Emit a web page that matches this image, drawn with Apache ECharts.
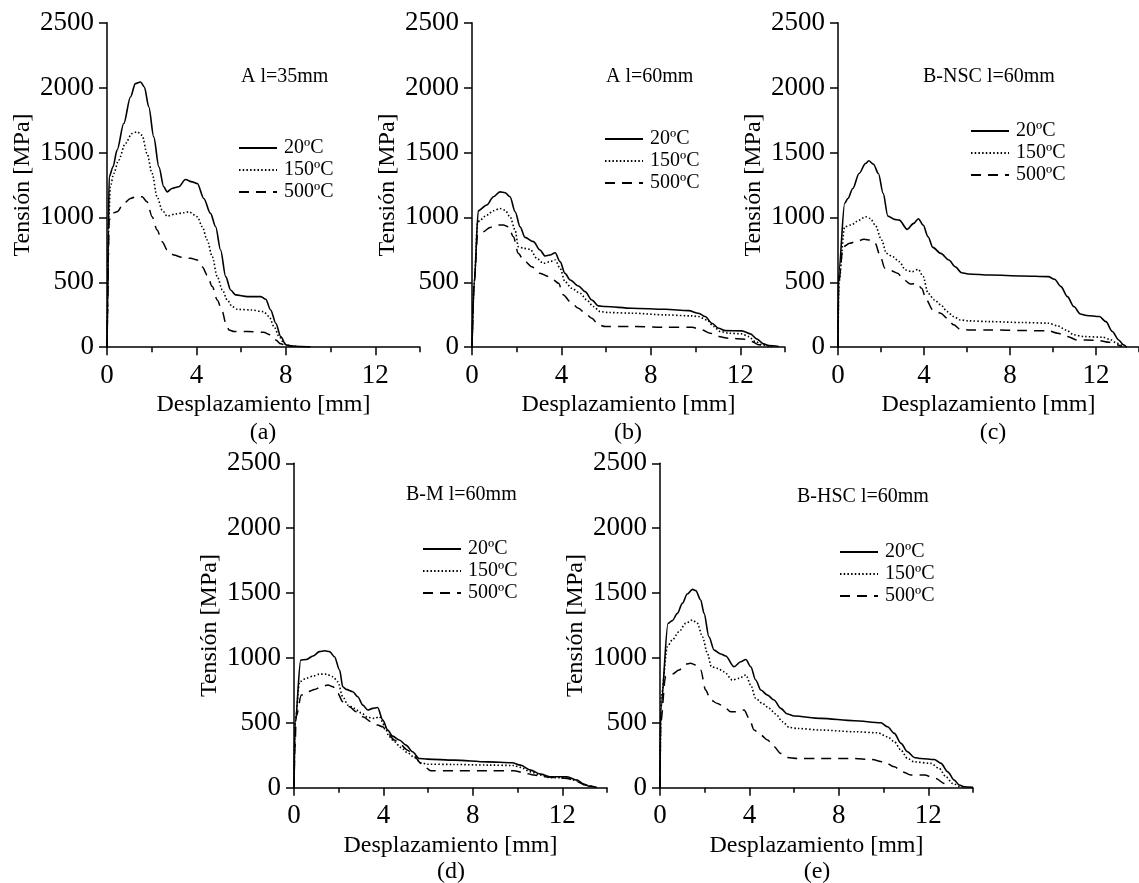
<!DOCTYPE html>
<html><head><meta charset="utf-8">
<script src="https://cdn.jsdelivr.net/npm/echarts@6/dist/echarts.min.js"></script>
<style>html,body{margin:0;padding:0;background:#fff}#c{width:1139px;height:883px}</style>
</head><body><div id="c"></div>
<script>
// ---- data (displacement mm, stress MPa) ----
const seriesNames = ['20ºC', '150ºC', '500ºC'];
const panelTitles = ['A l=35mm', 'A l=60mm', 'B-NSC l=60mm', 'B-M l=60mm', 'B-HSC l=60mm'];
const panelLabels = ['(a)', '(b)', '(c)', '(d)', '(e)'];
const xTickLabels = [0, 4, 8, 12];
const xMinorTicks = [2, 6, 10, 14];
const yTicks = [0, 500, 1000, 1500, 2000, 2500];

const a20 = [[0,0],[0.03,300],[0.06,900],[0.1,1313],[0.27,1390],[0.45,1518],[0.75,1723],[1.05,1928],[1.27,2031],[1.5,2043],[1.67,2005],[1.87,1851],[2.09,1620],[2.32,1390],[2.54,1236],[2.69,1197],[2.91,1223],[3.21,1236],[3.51,1292],[3.81,1274],[4.04,1261],[4.33,1146],[4.63,1031],[4.86,928],[5.08,749],[5.31,544],[5.53,441],[5.75,403],[6.28,390],[6.88,390],[7.1,369],[7.32,287],[7.55,185],[7.77,82],[8.0,18],[8.22,10],[8.67,5],[9.1,3]];
const a150 = [[0,0],[0.04,500],[0.08,1000],[0.15,1236],[0.3,1338],[0.52,1441],[0.82,1569],[1.12,1646],[1.35,1659],[1.57,1633],[1.79,1492],[2.02,1338],[2.24,1159],[2.47,1056],[2.69,1010],[3.06,1026],[3.44,1036],[3.66,1043],[4.04,1005],[4.26,928],[4.48,826],[4.71,697],[4.93,544],[5.16,441],[5.38,364],[5.6,313],[5.83,292],[6.43,287],[7.0,274],[7.25,236],[7.47,159],[7.7,82],[7.92,31],[8.15,10],[8.6,5]];
const a500 = [[0,0],[0.03,300],[0.06,700],[0.1,980],[0.22,1031],[0.45,1043],[0.75,1108],[1.05,1146],[1.35,1164],[1.57,1159],[1.79,1120],[2.02,1005],[2.24,903],[2.47,813],[2.69,749],[2.99,710],[3.36,692],[3.74,685],[4.04,672],[4.26,620],[4.48,556],[4.71,467],[4.93,364],[5.16,274],[5.31,185],[5.46,133],[5.68,121],[6.28,121],[7.0,115],[7.32,95],[7.55,56],[7.77,26],[8.0,10]];

const b20 = [[0,0],[0.1,500],[0.28,1051],[0.66,1095],[0.96,1159],[1.25,1197],[1.48,1190],[1.7,1159],[1.93,1044],[2.15,928],[2.37,846],[2.75,813],[3.04,749],[3.27,703],[3.49,710],[3.72,728],[3.94,659],[4.16,569],[4.39,518],[4.76,472],[5.06,428],[5.36,364],[5.66,318],[5.96,313],[7.15,300],[8.64,292],[9.69,282],[10.13,262],[10.43,236],[10.73,185],[11.03,146],[11.33,128],[12.07,126],[12.45,103],[12.75,62],[13.04,26],[13.27,13],[13.72,5]];
const b150 = [[0,0],[0.1,500],[0.25,959],[0.36,980],[0.66,1018],[0.96,1051],[1.25,1069],[1.48,1056],[1.7,1005],[1.93,903],[2.07,774],[2.3,762],[2.6,754],[2.9,685],[3.19,646],[3.49,659],[3.72,672],[3.94,608],[4.16,505],[4.46,454],[4.84,415],[5.13,364],[5.43,313],[5.73,274],[6.1,267],[7.15,262],[8.64,249],[9.84,241],[10.13,236],[10.51,210],[10.81,159],[11.1,121],[11.48,108],[12.07,103],[12.37,82],[12.67,44],[12.97,18],[13.42,5]];
const b500 = [[0,0],[0.1,500],[0.25,864],[0.51,890],[0.81,923],[1.1,941],[1.4,941],[1.63,928],[1.85,851],[2.07,723],[2.3,672],[2.67,620],[3.04,569],[3.42,544],[3.64,518],[3.87,492],[4.09,403],[4.39,351],[4.76,300],[5.06,262],[5.36,223],[5.66,172],[5.96,159],[7.15,159],[8.64,154],[9.84,154],[10.28,133],[10.66,108],[11.03,82],[11.48,69],[12.22,62],[12.52,44],[12.82,18],[13.27,5]];

const c20 = [[0,0],[0.03,570],[0.31,1108],[0.46,1146],[0.69,1223],[0.98,1338],[1.28,1415],[1.43,1436],[1.65,1410],[1.88,1338],[2.1,1185],[2.32,1010],[2.62,985],[2.85,979],[3.22,908],[3.52,954],[3.74,990],[3.96,941],[4.19,851],[4.41,769],[4.78,723],[5.16,672],[5.45,620],[5.75,574],[6.05,564],[7.09,556],[8.58,549],[9.78,544],[10.07,523],[10.37,467],[10.67,390],[10.97,313],[11.27,256],[11.56,244],[12.16,236],[12.46,197],[12.76,121],[13.05,56],[13.28,18],[13.43,0]];
const c150 = [[0,0],[0.04,500],[0.31,928],[0.61,941],[0.98,979],[1.28,1005],[1.5,992],[1.73,941],[2.03,826],[2.25,723],[2.55,697],[2.85,659],[3.14,595],[3.44,582],[3.74,600],[3.96,544],[4.19,415],[4.49,364],[4.78,326],[5.08,274],[5.38,236],[5.68,210],[6.05,203],[7.09,197],[8.58,190],[9.78,185],[10.22,164],[10.6,133],[10.97,95],[11.42,82],[12.31,77],[12.61,62],[12.98,31],[13.28,5]];
const c500 = [[0,0],[0.03,500],[0.24,774],[0.54,800],[0.83,813],[1.21,831],[1.5,826],[1.73,800],[1.95,710],[2.18,608],[2.47,590],[2.77,569],[3.07,518],[3.37,487],[3.67,492],[3.89,454],[4.11,364],[4.41,287],[4.78,262],[5.08,223],[5.38,172],[5.68,138],[6.05,133],[7.09,133],[8.58,128],[9.78,126],[10.22,108],[10.67,82],[11.12,56],[11.56,56],[12.16,51],[12.61,38],[12.98,18],[13.2,5]];

const d20 = [[0,0],[0.05,500],[0.3,984],[0.55,989],[0.85,1015],[1.14,1049],[1.37,1056],[1.59,1049],[1.81,1010],[2.04,907],[2.18,779],[2.33,758],[2.63,740],[2.85,702],[3.08,637],[3.3,599],[3.52,612],[3.74,619],[3.97,522],[4.19,445],[4.41,398],[4.71,368],[5.01,329],[5.3,278],[5.6,226],[5.97,221],[7.16,213],[8.65,200],[9.76,193],[10.13,175],[10.58,136],[11.03,105],[11.47,85],[12.21,85],[12.66,59],[12.96,28],[13.18,13],[13.55,3]];
const d150 = [[0,0],[0.05,500],[0.25,817],[0.55,843],[0.85,861],[1.14,876],[1.44,876],[1.74,856],[1.96,817],[2.18,702],[2.41,637],[2.7,612],[3.0,578],[3.3,542],[3.6,535],[3.82,547],[4.04,483],[4.26,393],[4.49,355],[4.78,311],[5.08,270],[5.38,234],[5.68,193],[5.97,182],[7.16,180],[8.65,175],[9.84,172],[10.13,157],[10.58,123],[11.03,98],[11.47,77],[12.21,77],[12.66,54],[13.03,21],[13.4,8]];
const d500 = [[0,0],[0.04,300],[0.1,550],[0.33,714],[0.62,740],[0.92,758],[1.22,779],[1.52,792],[1.74,779],[1.96,727],[2.18,663],[2.48,625],[2.78,586],[3.08,547],[3.45,509],[3.74,483],[3.97,470],[4.19,419],[4.49,368],[4.78,329],[5.08,290],[5.38,244],[5.68,188],[6.12,131],[7.16,131],[8.65,131],[9.84,131],[10.28,116],[10.73,98],[11.17,85],[11.62,80],[12.21,72],[12.66,46],[13.03,21],[13.33,8]];

const e20 = [[0,0],[0.03,600],[0.36,1267],[0.55,1288],[0.78,1344],[1.0,1421],[1.22,1493],[1.45,1529],[1.6,1519],[1.82,1447],[1.97,1344],[2.19,1164],[2.42,1061],[2.72,1031],[2.94,1015],[3.31,933],[3.61,971],[3.84,989],[4.06,933],[4.28,830],[4.51,753],[4.81,714],[5.1,676],[5.4,612],[5.7,568],[6.0,553],[7.19,535],[8.69,517],[9.88,501],[10.18,470],[10.48,419],[10.78,342],[11.07,278],[11.37,234],[11.67,226],[12.27,218],[12.57,188],[12.87,123],[13.16,59],[13.39,21],[13.6,8],[14,3]];
const e150 = [[0,0],[0.05,700],[0.33,1087],[0.55,1139],[0.85,1203],[1.15,1267],[1.45,1293],[1.67,1267],[1.9,1164],[2.12,1036],[2.3,933],[2.57,920],[2.87,894],[3.24,830],[3.54,843],[3.84,869],[4.06,792],[4.28,689],[4.58,650],[4.88,612],[5.18,568],[5.48,509],[5.78,465],[6.15,457],[7.19,445],[8.69,432],[9.73,424],[10.18,393],[10.48,355],[10.78,290],[11.07,226],[11.37,200],[12.12,188],[12.49,149],[12.79,85],[13.09,33],[13.4,8]];
const e500 = [[0,0],[0.03,500],[0.25,856],[0.55,876],[0.85,907],[1.15,953],[1.37,959],[1.6,946],[1.82,907],[2.04,753],[2.27,676],[2.57,650],[2.87,625],[3.16,586],[3.46,586],[3.76,599],[3.99,535],[4.21,445],[4.51,406],[4.81,368],[5.1,316],[5.4,265],[5.7,234],[6.15,226],[7.19,226],[8.69,226],[9.43,218],[10.03,200],[10.48,162],[10.85,123],[11.22,98],[11.82,98],[12.34,72],[12.72,33],[13.01,8]];

const panelData = [[a20,a150,a500],[b20,b150,b500],[c20,c150,c500],[d20,d150,d500],[e20,e150,e500]];

// ---- layout ----
const FONT = '"Liberation Serif","Times New Roman",serif';
const layout = [
  {left:107, top:22.7, tx:241, ty:77, lx:238, ly:146, labx:263, laby:433},
  {left:472, top:22.7, tx:606, ty:77, lx:604, ly:137, labx:628, laby:433},
  {left:838, top:22.7, tx:923, ty:77, lx:970, ly:129, labx:993, laby:433},
  {left:294, top:463.3, tx:406, ty:495, lx:422, ly:547, labx:451, laby:872},
  {left:660, top:463.3, tx:797, ty:497, lx:839, ly:550, labx:817, laby:872}
];
const GW = 313, GH = 324.5;
const lineStyles = [
  {type:'solid', width:1.6},
  {type:[1.5,2.2], width:1.6},
  {type:[10,7], width:1.5}
];

const grid = [], xAxis = [], yAxis = [], series = [], title = [], legend = [];
layout.forEach((L, i) => {
  grid.push({left:L.left, top:L.top, width:GW, height:GH, containLabel:false});
  xAxis.push({
    type:'value', gridIndex:i, min:0, max:14,
    name:'Desplazamiento [mm]', nameLocation:'middle', nameGap:46,
    nameTextStyle:{fontFamily:FONT, fontSize:24, color:'#000'},
    axisLine:{show:true, onZero:false, lineStyle:{color:'#000', width:1.5}},
    axisTick:{show:true, inside:false, length:8, customValues:xTickLabels, lineStyle:{color:'#000', width:1.5}},
    axisLabel:{fontFamily:FONT, fontSize:27, color:'#000', margin:15, customValues:xTickLabels, formatter:v => String(v)},
    splitLine:{show:false}
  });
  xAxis.push({
    type:'value', gridIndex:i, min:0, max:14, position:'bottom',
    axisLine:{show:false},
    axisTick:{show:true, inside:false, length:5, customValues:xMinorTicks, lineStyle:{color:'#000', width:1.5}},
    axisLabel:{show:false},
    splitLine:{show:false}
  });
  yAxis.push({
    type:'value', gridIndex:i, min:0, max:2500, interval:500,
    name:'Tensión [MPa]', nameLocation:'middle', nameGap:72,
    nameTextStyle:{fontFamily:FONT, fontSize:24, color:'#000'},
    axisLine:{show:true, onZero:false, lineStyle:{color:'#000', width:1.5}},
    axisTick:{show:true, inside:false, length:8, lineStyle:{color:'#000', width:1.5}},
    axisLabel:{fontFamily:FONT, fontSize:27, color:'#000', margin:13, formatter:v => String(v)},
    splitLine:{show:false}
  });
  panelData[i].forEach((d, k) => {
    series.push({
      type:'line', name:seriesNames[k], xAxisIndex:2*i, yAxisIndex:i,
      data:d, showSymbol:false, symbol:'none', smooth:0.3, smoothMonotone:'x',
      lineStyle:Object.assign({color:'#000'}, lineStyles[k]),
      itemStyle:{color:'#000'}, silent:true, animation:false
    });
  });
  title.push({text:panelTitles[i], left:L.tx, top:L.ty - 11, padding:0,
    textStyle:{fontFamily:FONT, fontSize:20, fontWeight:'normal', color:'#000', lineHeight:22}});
  title.push({text:panelLabels[i], left:L.labx, top:L.laby - 13, padding:0, textAlign:'center',
    textStyle:{fontFamily:FONT, fontSize:24, fontWeight:'normal', color:'#000', lineHeight:26}});
  legend.push({
    show:true, data:seriesNames.slice(), orient:'vertical', left:L.lx, top:L.ly - 8, padding:0,
    itemWidth:38, itemHeight:14, itemGap:2, selectedMode:false,
    itemStyle:{opacity:0},
    textStyle:{fontFamily:FONT, fontSize:20, color:'#000', padding:[0,0,0,2]}
  });
});

const chart = echarts.init(document.getElementById('c'), null, {renderer:'canvas'});
chart.setOption({backgroundColor:'#fff', animation:false, grid, xAxis, yAxis, series, title, legend});
</script></body></html>
